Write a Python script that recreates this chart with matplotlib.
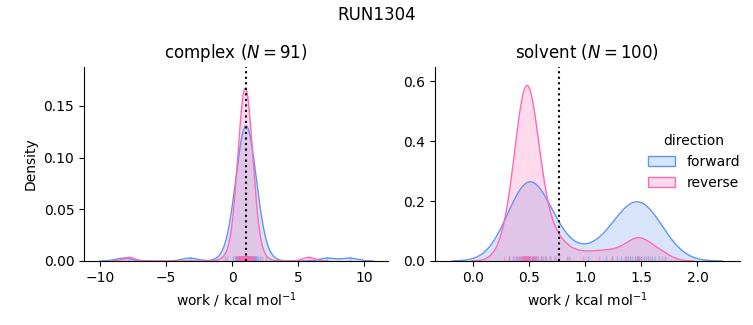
import numpy as np
import matplotlib
matplotlib.use("Agg")
import matplotlib.pyplot as plt
from matplotlib.patches import Patch
from matplotlib.colors import to_rgba

# ---------------- data (work values, kcal/mol) ----------------
suptitle = "RUN1304"
directions = ["forward", "reverse"]
colors = {"forward": "#6495ED", "reverse": "#FF69B4"}

complex_forward = [
    -8.2, -3.2, -0.55, 0.05, 0.22, 0.27, 0.31, 0.41, 0.44, 0.47, 0.50, 0.52,
    0.58, 0.61, 0.64, 0.66, 0.69, 0.71, 0.74,
    0.78, 0.80, 0.82, 0.85, 0.86, 0.88, 0.90, 0.92, 0.95,
    0.97, 0.99, 1.01, 1.03, 1.05, 1.07, 1.09, 1.11, 1.13, 1.15,
    1.17, 1.19, 1.22, 1.24, 1.26, 1.28, 1.30, 1.33, 1.35,
    1.38, 1.41, 1.44, 1.46, 1.49, 1.52, 1.55,
    1.59, 1.63, 1.67, 1.71, 1.75, 1.80, 1.87, 1.93, 2.08, 2.6, 7.2, 8.9,
]
complex_reverse = [
    -7.8, -0.35, 0.29, 0.41, 0.45, 0.48, 0.53, 0.56, 0.58, 0.61, 0.63,
    0.66, 0.68, 0.70, 0.72, 0.74, 0.76, 0.78,
    0.80, 0.82, 0.83, 0.85, 0.86, 0.88, 0.89, 0.91, 0.92,
    0.94, 0.95, 0.97, 0.98, 1.00, 1.01, 1.02, 1.04, 1.05, 1.06,
    1.08, 1.10, 1.11, 1.13, 1.14, 1.16, 1.17, 1.19, 1.20,
    1.22, 1.24, 1.27, 1.29, 1.31, 1.33, 1.35,
    1.37, 1.40, 1.43, 1.46, 1.48, 1.52, 1.57, 1.62, 1.71, 2.3, 5.8,
]
solvent_forward = [
    0.32, 0.35, 0.38, 0.40, 0.42, 0.43, 0.45, 0.46, 0.47, 0.48, 0.49, 0.50,
    0.51, 0.52, 0.53, 0.54, 0.55, 0.56, 0.58, 0.60, 0.62, 0.65, 0.68,
    0.74, 0.85, 1.02, 1.18,
    1.24, 1.28, 1.32, 1.35, 1.38, 1.40, 1.42, 1.44, 1.46, 1.47, 1.48, 1.50,
    1.52, 1.54, 1.56, 1.59, 1.62, 1.66, 1.71,
]
solvent_reverse = [
    0.27, 0.32, 0.36,
    0.39, 0.41, 0.42, 0.43, 0.43, 0.44, 0.44, 0.45, 0.45, 0.46, 0.46, 0.46,
    0.47, 0.47, 0.47, 0.47, 0.48, 0.48, 0.48, 0.49, 0.49, 0.50, 0.50, 0.51,
    0.51, 0.52, 0.52, 0.53, 0.54, 0.55, 0.56, 0.58, 0.60,
    0.64, 0.68, 0.72, 0.76, 0.84, 0.98, 1.12,
    1.24, 1.36, 1.44, 1.47, 1.50, 1.58, 1.68,
]

# kernel bandwidths and density share of each group
bandwidth = {"complex": {"forward": 0.60, "reverse": 0.45},
             "solvent": {"forward": 0.17, "reverse": 0.095}}
area = {"complex": {"forward": 0.275, "reverse": 0.25},
        "solvent": {"forward": 0.25, "reverse": 0.2275}}

phase_titles = {"complex": r"complex ($N = 91$)", "solvent": r"solvent ($N = 100$)"}
free_energy = {"complex": 1.06, "solvent": 0.765}
xlims = {"complex": (-11.2, 11.8), "solvent": (-0.342, 2.375)}
ylims = {"complex": (0, 0.188), "solvent": (0, 0.648)}

samples = {"complex": {"forward": complex_forward, "reverse": complex_reverse},
           "solvent": {"forward": solvent_forward, "reverse": solvent_reverse}}


def kde(values, h, share, grid):
    v = np.asarray(values)[:, None]
    k = np.exp(-0.5 * ((grid[None, :] - v) / h) ** 2).sum(axis=0)
    return share * k / (len(values) * h * np.sqrt(2 * np.pi))


fig = plt.figure(figsize=(7.53, 3.25), dpi=100)
W, H = 753, 325
ax1 = fig.add_axes([84 / W, 1 - 261 / H, (388 - 84) / W, (261 - 66.7) / H])
ax2 = fig.add_axes([435 / W, 1 - 261 / H, (739.5 - 435) / W, (261 - 66.7) / H])

for ax, phase in [(ax1, "complex"), (ax2, "solvent")]:
    for d in directions:
        vals = np.asarray(samples[phase][d])
        h = bandwidth[phase][d]
        grid = np.linspace(vals.min() - 3 * h, vals.max() + 3 * h, 600)
        dens = kde(vals, h, area[phase][d], grid)
        ax.fill_between(grid, dens, color=colors[d], alpha=0.25, lw=0)
        ax.plot(grid, dens, color=colors[d], lw=1)
        ax.vlines(vals, 0, 0.025, transform=ax.get_xaxis_transform(),
                  color=colors[d], alpha=0.5, lw=1)
    ax.axvline(free_energy[phase], color="black", ls=":", lw=1.5)
    ax.set_xlim(*xlims[phase])
    ax.set_ylim(*ylims[phase])
    ax.set_title(phase_titles[phase], fontsize=12)
    ax.set_xlabel(r"work / kcal mol$^{-1}$")
    ax.spines["top"].set_visible(False)
    ax.spines["right"].set_visible(False)

ax1.set_xticks([-10, -5, 0, 5, 10])
ax1.set_yticks([0.0, 0.05, 0.10, 0.15])
ax1.set_ylabel("Density")
ax2.set_xticks([0.0, 0.5, 1.0, 1.5, 2.0])
ax2.set_yticks([0.0, 0.2, 0.4, 0.6])

handles = [Patch(facecolor=to_rgba(colors[d], 0.25), edgecolor=colors[d], lw=1, label=d)
           for d in directions]
ax2.legend(handles=handles, title="direction", frameon=False, loc="center left",
           bbox_to_anchor=(0.657, 0.51), fontsize=10, title_fontsize=10)

fig.suptitle(suptitle, fontsize=12, y=0.98)
fig.savefig("out.png", dpi=100)
